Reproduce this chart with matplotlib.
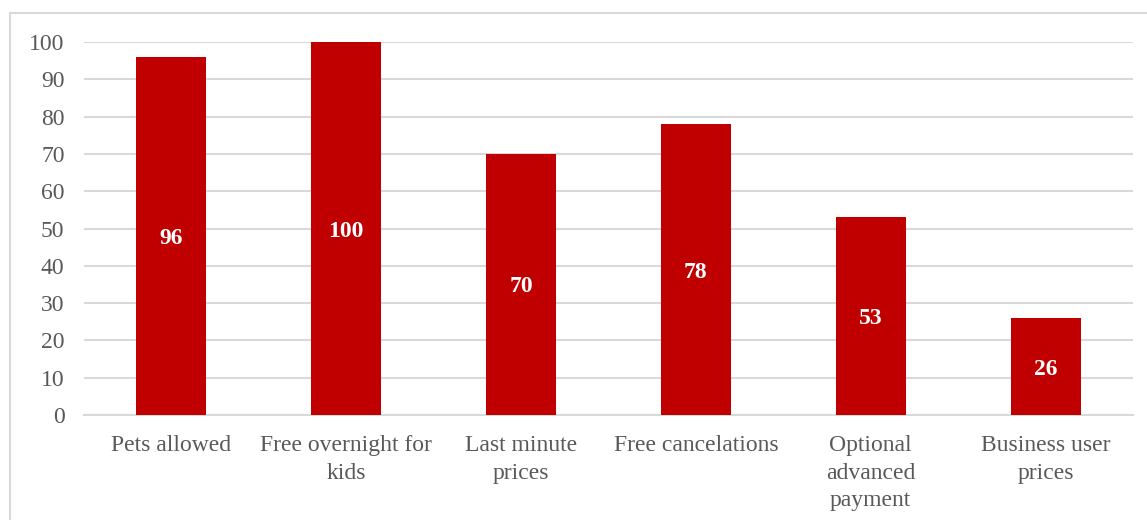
import matplotlib.pyplot as plt
from matplotlib.patches import Rectangle

categories = ["Pets allowed", "Free overnight for\nkids", "Last minute\nprices",
              "Free cancelations", "Optional\nadvanced\npayment", "Business user\nprices"]
values = [96, 100, 70, 78, 53, 26]

plt.rcParams['font.family'] = ['Liberation Serif', 'DejaVu Serif']

fig = plt.figure(figsize=(11.47, 5.2), dpi=100)
ax = fig.add_axes([0.0732, 0.2019, 0.9146, 0.7171])

# chart frame (open on the right/bottom edge of the image)
fig.patches.append(Rectangle((10 / 1147, -0.01), 1.2, 1 - 13 / 520 + 0.01,
                             transform=fig.transFigure, fill=False,
                             edgecolor='#d9d9d9', linewidth=1.5))

x = range(len(categories))
bars = ax.bar(x, values, width=0.4, color='#c00000', zorder=3)

for b, v in zip(bars, values):
    ax.text(b.get_x() + b.get_width() / 2, v / 2, str(v), ha='center',
            va='center_baseline', color='white', fontsize=17, fontweight='bold',
            zorder=4)

ax.set_xlim(-0.5, len(categories) - 0.5)
ax.set_ylim(0, 100)
ax.set_yticks(range(0, 101, 10))
ax.set_xticks(list(x))
ax.set_xticklabels(categories, fontsize=17, color='#595959', linespacing=1.4)
ax.tick_params(axis='y', labelsize=17, labelcolor='#595959', length=0, pad=14)
ax.tick_params(axis='x', length=0, pad=14.5)

ax.yaxis.grid(True, color='#d9d9d9', linewidth=1.5, zorder=0)
ax.set_axisbelow(True)
for s in ['top', 'right', 'left']:
    ax.spines[s].set_visible(False)
ax.spines['bottom'].set_color('#d9d9d9')
ax.spines['bottom'].set_linewidth(1.5)

fig.savefig('out.png', dpi=100)
